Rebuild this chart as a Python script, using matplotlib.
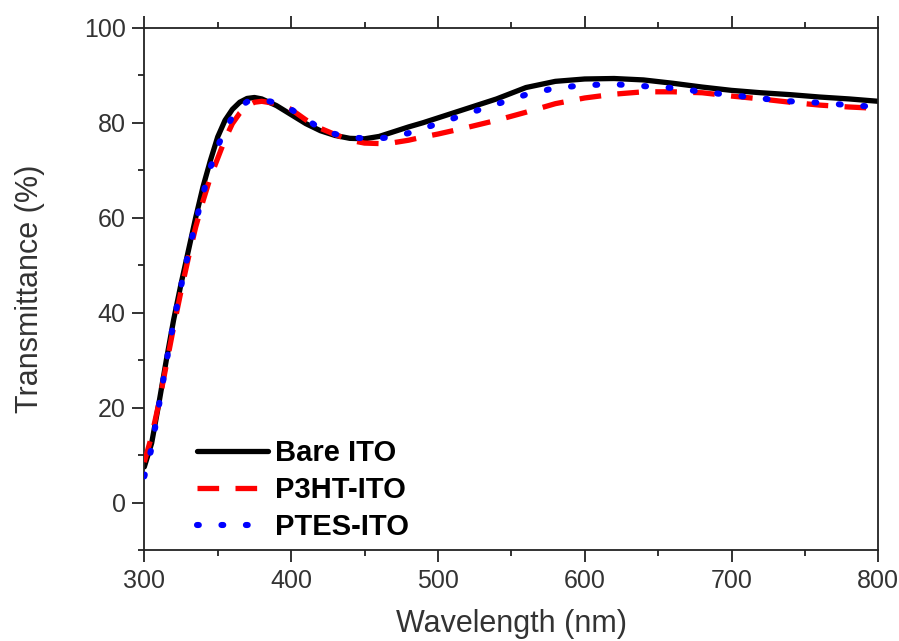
import matplotlib
matplotlib.use("Agg")
import matplotlib.pyplot as plt
from matplotlib.ticker import MultipleLocator

plt.rcParams['font.family'] = ['Liberation Sans', 'DejaVu Sans']

# Transmittance spectra (%), wavelength in nm
wavelength = [300, 305, 310, 315, 320, 325, 330, 335, 340, 345, 350, 355, 360, 365,
              370, 375, 380, 390, 400, 410, 420, 430, 440, 450, 460, 470, 480, 490,
              500, 520, 540, 560, 580, 600, 620, 640, 660, 680, 700, 720, 740, 760,
              780, 800]

bare_ito = [7.5, 12.5, 21.0, 30.0, 38.5, 46.0, 53.0, 60.0, 66.5, 72.0, 77.0, 80.5, 82.8, 84.3,
            85.1, 85.3, 85.0, 83.6, 81.7, 79.8, 78.3, 77.3, 76.7, 76.6, 77.1, 78.1, 79.1, 80.0,
            81.0, 83.0, 85.0, 87.4, 88.7, 89.2, 89.3, 89.0, 88.3, 87.5, 86.8, 86.3, 85.9, 85.4,
            85.0, 84.5]

p3ht_ito = [8.5, 14.0, 21.0, 29.0, 37.0, 44.5, 51.5, 58.0, 63.5, 68.5, 72.5, 76.5, 79.8, 82.0,
            83.5, 84.3, 84.5, 84.0, 82.8, 80.6, 78.8, 77.5, 76.3, 75.7, 75.6, 75.8, 76.3, 77.0,
            77.6, 79.0, 80.5, 82.2, 84.0, 85.2, 86.0, 86.5, 86.5, 86.3, 85.6, 85.0, 84.3, 83.7,
            83.3, 83.0]

ptes_ito = [5.5, 11.5, 20.5, 29.5, 38.0, 45.5, 52.5, 59.0, 65.0, 70.5, 75.0, 78.5, 81.2, 83.3,
            84.4, 84.8, 84.8, 84.2, 82.8, 80.8, 78.7, 77.6, 76.9, 76.7, 76.7, 77.0, 77.8, 78.8,
            79.8, 81.9, 83.9, 85.9, 87.3, 87.9, 88.1, 87.7, 87.3, 86.5, 85.8, 85.1, 84.5, 84.2,
            83.7, 83.3]

labels = ["Bare ITO", "P3HT-ITO", "PTES-ITO"]

fig = plt.figure(figsize=(8.99, 6.41), dpi=100)
ax = fig.add_axes([144.3 / 899, 91 / 641, (878.3 - 144.3) / 899, (550 - 27.7) / 641])

ax.plot(wavelength, bare_ito, color='black', lw=3.8, solid_capstyle='round',
        solid_joinstyle='round', label=labels[0], zorder=2)
ax.plot(wavelength, p3ht_ito, color='#ff0000', lw=3.8, dashes=(4.1, 3.1),
        dash_capstyle='butt', label=labels[1], zorder=3)
ax.plot(wavelength, ptes_ito, color='#0000ff', lw=4.4, dashes=(0.3, 3.7),
        dash_capstyle='round', label=labels[2], zorder=4)

ax.set_xlim(300, 800)
ax.set_ylim(-10, 100)
ax.xaxis.set_major_locator(MultipleLocator(100))
ax.xaxis.set_minor_locator(MultipleLocator(50))
ax.yaxis.set_major_locator(MultipleLocator(20))
ax.yaxis.set_minor_locator(MultipleLocator(10))

for side in ['left', 'right', 'top', 'bottom']:
    ax.spines[side].set_linewidth(1.3)
    ax.spines[side].set_color('#222222')

ax.tick_params(axis='both', which='major', direction='out', length=8.5, width=1.3,
               color='#222222', labelsize=18, labelcolor='#333333', pad=5)
ax.tick_params(axis='both', which='minor', direction='out', length=4, width=1.3,
               color='#222222')
ax.tick_params(axis='x', which='both', top=True, labeltop=False)
ax.tick_params(axis='y', which='both', right=False)

ax.set_xlabel("Wavelength (nm)", fontsize=22, color='#333333', labelpad=12)
ax.set_ylabel("Transmittance (%)", fontsize=22, color='#333333', labelpad=28)

leg = ax.legend(loc='upper left', bbox_to_anchor=(196.7 / 899, 1 - 439 / 641),
                bbox_transform=fig.transFigure, frameon=False, borderpad=0,
                borderaxespad=0, handlelength=2.46, handletextpad=0.24,
                labelspacing=0.31, prop={'weight': 'bold', 'size': 21})

fig.savefig("out.png", dpi=100)
